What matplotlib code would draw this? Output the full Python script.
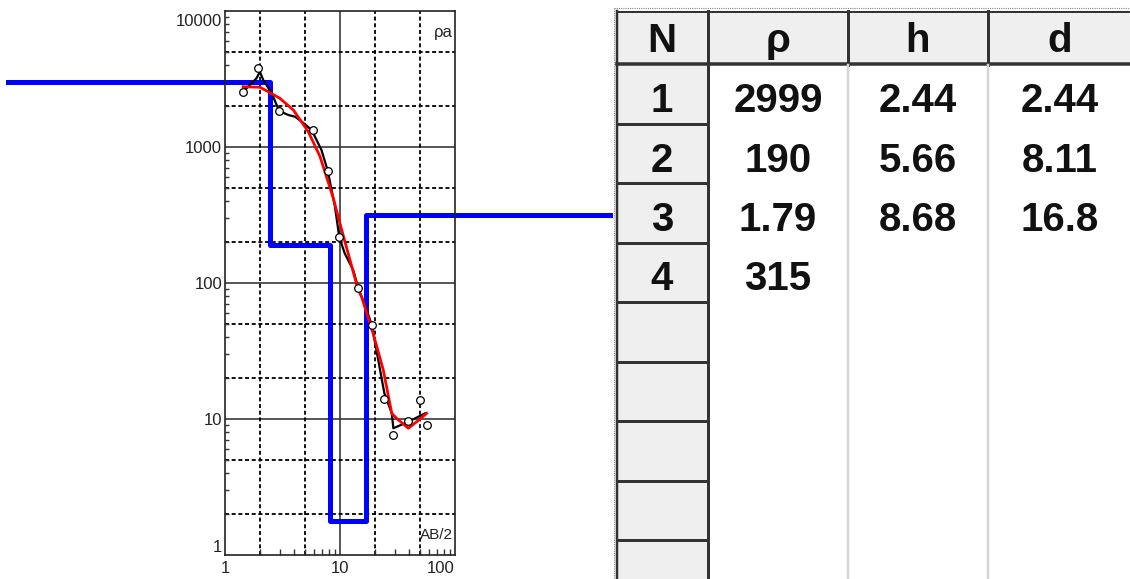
import matplotlib
matplotlib.use("Agg")
import matplotlib.pyplot as plt
from matplotlib.patches import Rectangle
from matplotlib.ticker import FixedLocator, LogLocator, NullFormatter
from matplotlib.transforms import ScaledTranslation

# ---------------- data ----------------
# measured apparent resistivity (circles)
ab2_pts = [1.44, 1.95, 2.96, 5.79, 7.82, 9.86, 14.4, 18.9, 24.3, 29.1, 39.3, 49.6, 57.5]
rho_pts = [2550, 3780, 1840, 1334, 670, 217, 92.0, 49.1, 14.0, 7.63, 9.7, 13.8, 9.0]

# field curve (black line)
ab2_field = [1.44, 1.88, 2.01, 2.15, 2.55, 2.96, 3.55, 4.06, 4.65, 5.67, 6.9, 7.82,
             9.04, 9.86, 11.0, 13.0, 14.4, 17.1, 18.9, 24.3, 28.2, 29.1, 39.3, 54.8]
rho_field = [2550, 3200, 3580, 3110, 2480, 1840, 1720, 1670, 1536, 1334, 950, 670,
             364, 217, 165, 125, 92, 63, 49.1, 15.5, 11.0, 8.55, 9.55, 11.0]

# calculated curve (red line)
ab2_calc = [1.44, 2.01, 2.38, 3.00, 3.93, 5.30, 6.71, 8.75, 10.0, 14.4, 15.4, 19.5,
            23.8, 28.2, 31.1, 39.3, 46.4, 56.7]
rho_calc = [2775, 2750, 2550, 2280, 1870, 1296, 849, 420, 273, 88.9, 79.3, 42.0,
            22.9, 11.0, 10.1, 8.55, 9.55, 11.0]

# layered model (blue)
model_rho = [2999, 190, 1.79, 315]
model_depth = [2.44, 8.11, 16.8]

# table
table_header = ["N", "ρ", "h", "d"]
layer_no = ["1", "2", "3", "4"]
layer_rho = ["2999", "190", "1.79", "315"]
layer_h = ["2.44", "5.66", "8.68", ""]
layer_d = ["2.44", "8.11", "16.8", ""]

x_ticks = [1, 10, 100]
x_ticklabels = ["1", "10", "100"]
y_ticks = [1, 10, 100, 1000, 10000]
y_ticklabels = ["1", "10", "100", "1000", "10000"]

# ---------------- figure ----------------
W, H = 1130, 579
fig = plt.figure(figsize=(W / 100, H / 100), dpi=100)
fig.patch.set_facecolor("white")

chart_font = ["Liberation Sans Narrow", "Liberation Sans", "DejaVu Sans"]
table_font = ["Liberation Sans", "DejaVu Sans"]

ax = fig.add_axes([225 / W, (H - 555) / H, 230 / W, 544 / H])
ax.set_xscale("log")
ax.set_yscale("log")
ax.set_xlim(1, 100)
ax.set_ylim(1, 10000)

# grid: solid at decades, dashed at 2 and 5
grid_dark = "#3a3a3a"
dash = (0, (2.2, 1.5))
for v in x_ticks[1:-1]:
    ax.axvline(v, color=grid_dark, lw=1.2, zorder=1)
for v in y_ticks[1:-1]:
    ax.axhline(v, color=grid_dark, lw=1.2, zorder=1)
for dec in x_ticks[:-1]:
    for m in (2, 5):
        ax.axvline(dec * m, color="black", lw=1.3, ls=dash, zorder=1)
for dec in y_ticks[:-1]:
    for m in (2, 5):
        ax.axhline(dec * m, color="black", lw=1.3, ls=dash, zorder=1)

ax.xaxis.set_major_locator(FixedLocator(x_ticks))
ax.yaxis.set_major_locator(FixedLocator(y_ticks))
ax.set_xticklabels(x_ticklabels)
ax.set_yticklabels(y_ticklabels)
ax.xaxis.set_minor_locator(LogLocator(base=10, subs=range(2, 10), numticks=20))
ax.yaxis.set_minor_locator(LogLocator(base=10, subs=range(2, 10), numticks=20))
ax.xaxis.set_minor_formatter(NullFormatter())
ax.yaxis.set_minor_formatter(NullFormatter())
ax.tick_params(which="both", direction="in", top=False, right=False, color="#333333", width=1.0)
ax.tick_params(which="major", length=0)
ax.tick_params(axis="y", which="minor", length=3)
ax.tick_params(axis="x", which="minor", length=4)
ax.tick_params(axis="y", which="major", pad=2)
ax.tick_params(axis="x", which="major", pad=4)
for lab in ax.get_xticklabels() + ax.get_yticklabels():
    lab.set_fontfamily(chart_font)
    lab.set_fontsize(12)
    lab.set_color("#222222")
ylabs = ax.get_yticklabels()
ylabs[0].set_va("bottom")
ylabs[-1].set_va("top")
ylabs[-1].set_transform(ylabs[-1].get_transform() +
                        ScaledTranslation(0, -3 / 100, fig.dpi_scale_trans))
xlabs = ax.get_xticklabels()
xlabs[-1].set_ha("right")

for sp in ax.spines.values():
    sp.set_color("#222222")
    sp.set_linewidth(1.2)

# blue model step curve extending beyond the axes
inv = ax.transData.inverted()
x_left = inv.transform((8, 0))[0]
x_right = inv.transform((610, 0))[0]
bx = [x_left]
by = [model_rho[0]]
for i, dpt in enumerate(model_depth):
    bx += [dpt, dpt]
    by += [model_rho[i], model_rho[i + 1]]
bx.append(x_right)
by.append(model_rho[-1])
ax.plot(bx, by, color="#0000ff", lw=3.6, clip_on=False, zorder=2)

ax.plot(ab2_field, rho_field, color="black", lw=1.6, zorder=3)
ax.plot(ab2_calc, rho_calc, color="#ff0000", lw=2.0, zorder=4)
ax.plot(ab2_pts, rho_pts, "o", mfc="white", mec="black", ms=5.5, mew=0.9, zorder=5)

ax.text(0.991, 0.952, "ρa", transform=ax.transAxes, ha="right", va="baseline",
        fontsize=12, family=chart_font, color="#222222")
ax.text(0.991, 0.029, "AB/2", transform=ax.transAxes, ha="right", va="baseline",
        fontsize=11, family=chart_font, color="#222222")

# ---------------- table (pixel coordinates) ----------------
tab = fig.add_axes([0, 0, 1, 1], zorder=-1)
tab.set_xlim(0, W)
tab.set_ylim(H, 0)
tab.axis("off")

px = 0.72  # points per pixel
dark = "#333333"
cell_gray = "#efefef"
col_edges = [617, 708, 848, 988, 1140]
col_centers = [662, 778, 918, 1060]
head_top, head_bot = 11, 65
row_h = 59.5
n_rows = 9

# header
tab.add_patch(Rectangle((col_edges[0], head_top), col_edges[-1] - col_edges[0],
                        head_bot - head_top, facecolor=cell_gray, edgecolor="none"))
# N column cells
for r in range(n_rows):
    top = head_bot + r * row_h
    tab.add_patch(Rectangle((col_edges[0], top), col_edges[1] - col_edges[0], row_h,
                            facecolor=cell_gray, edgecolor="none"))
    tab.plot([col_edges[0], col_edges[1]], [top + row_h - 1, top + row_h - 1],
             color=dark, lw=3 * px, solid_capstyle="butt")
# header lines
tab.plot([col_edges[0], W], [head_top + 1, head_top + 1], color=dark, lw=2 * px)
tab.plot([col_edges[0], W], [head_bot - 1, head_bot - 1], color=dark, lw=3.5 * px)
for xe in col_edges[1:4]:
    tab.plot([xe, xe], [head_top, head_bot], color=dark, lw=3 * px)
# data column separators
for xe in col_edges[2:4]:
    tab.plot([xe, xe], [head_bot, H], color="#d6d6d6", lw=2.5 * px)
# N column borders
tab.plot([col_edges[0], col_edges[0]], [head_top, H], color=dark, lw=2.5 * px)
tab.plot([col_edges[1], col_edges[1]], [head_top, H], color=dark, lw=3 * px)
# focus dotted frame
tab.plot([614, 614], [8, H], color="#888888", lw=0.8, ls=(0, (1, 1)))
tab.plot([614, W], [8, 8], color="#888888", lw=0.8, ls=(0, (1, 1)))

fs = 29
for c, txt in enumerate(table_header):
    tab.text(col_centers[c], 52, txt, ha="center", va="baseline", fontsize=fs,
             fontweight="bold", family=table_font, color="#111111")
for r in range(len(layer_no)):
    base = head_bot + r * row_h + 47
    for c, col in enumerate([layer_no, layer_rho, layer_h, layer_d]):
        tab.text(col_centers[c], base, col[r], ha="center", va="baseline", fontsize=fs,
                 fontweight="bold", family=table_font, color="#111111")

fig.savefig("out.png", dpi=100, facecolor="white")
